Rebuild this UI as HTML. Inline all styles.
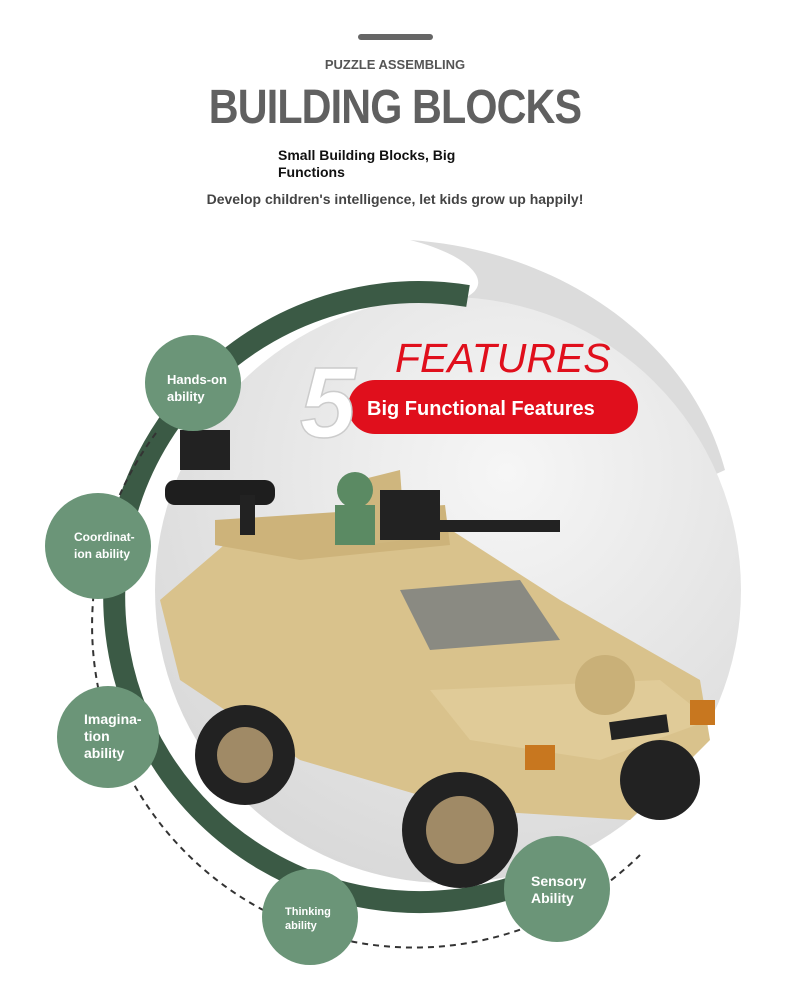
<!DOCTYPE html>
<html><head><meta charset="utf-8"><style>
body{margin:0;width:790px;height:1006px;background:#fff;overflow:hidden;position:relative;font-family:"Liberation Sans",sans-serif}
.t{position:absolute;white-space:nowrap}
</style></head><body>
<div style="position:absolute;left:358px;top:34px;width:75px;height:6px;background:#666;border-radius:3px"></div>
<div class="t" style="left:0;width:790px;text-align:center;top:57px;font-size:13px;font-weight:bold;color:#555">PUZZLE ASSEMBLING</div>
<div class="t" style="left:0;width:790px;text-align:center;top:80px;font-size:48px;font-weight:bold;color:#606060;letter-spacing:-1px;transform:scaleX(0.86)">BUILDING BLOCKS</div>
<div class="t" style="left:278px;top:147px;font-size:14px;font-weight:bold;color:#111;line-height:17px">Small Building Blocks, Big<br>Functions</div>
<div class="t" style="left:0;width:790px;text-align:center;top:191px;font-size:14px;font-weight:bold;color:#444">Develop children's intelligence, let kids grow up happily!</div>
<svg style="position:absolute;left:0;top:0" width="790" height="1006">
<defs><radialGradient id="g" cx="0.6" cy="0.3" r="0.8"><stop offset="0" stop-color="#f6f6f6"/><stop offset="1" stop-color="#d6d6d6"/></radialGradient></defs>
<path d="M410 240 C560 250 690 340 725 470 L460 590 L460 300 C500 285 470 255 410 240 Z" fill="#dcdcdc"/>
<circle cx="448" cy="590" r="293" fill="url(#g)"/>
<path d="M460 296 A305 305 0 1 0 530 878" fill="none" stroke="#3b5a45" stroke-width="22" transform="translate(8 0)"/>
<path d="M156 433 A322 322 0 0 0 640 855" fill="none" stroke="#333" stroke-width="2" stroke-dasharray="6 5"/>
<!-- vehicle -->
<g>
<polygon points="160,600 230,540 420,510 560,600 700,680 710,740 630,820 470,810 300,760 180,680" fill="#d9c28c"/>
<polygon points="215,520 445,505 450,545 300,560 215,545" fill="#cdb37a"/>
<polygon points="360,480 400,470 405,540 365,545" fill="#cfb67e"/>
<polygon points="400,590 520,580 560,640 430,650" fill="#8a8a82"/>
<polygon points="430,690 660,680 710,720 600,760 470,740" fill="#e0cb98"/>
<rect x="180" y="430" width="50" height="40" fill="#222"/>
<rect x="165" y="480" width="110" height="25" rx="10" fill="#1e1e1e"/>
<rect x="240" y="495" width="15" height="40" fill="#222"/>
<rect x="380" y="490" width="60" height="50" fill="#222"/>
<rect x="440" y="520" width="120" height="12" fill="#222"/>
<circle cx="355" cy="490" r="18" fill="#5b8a63"/>
<rect x="335" y="505" width="40" height="40" fill="#5b8a63"/>
<circle cx="245" cy="755" r="50" fill="#222"/><circle cx="245" cy="755" r="28" fill="#a08a66"/>
<circle cx="460" cy="830" r="58" fill="#222"/><circle cx="460" cy="830" r="34" fill="#a08a66"/>
<circle cx="660" cy="780" r="40" fill="#222"/>
<rect x="610" y="718" width="58" height="18" fill="#222" transform="rotate(-8 640 727)"/>
<rect x="525" y="745" width="30" height="25" fill="#c8771f"/><rect x="690" y="700" width="25" height="25" fill="#c8771f"/>
<circle cx="605" cy="685" r="30" fill="#c9b078"/>
</g>
<!-- green circles -->
<g fill="#6b9578">
<circle cx="193" cy="383" r="48"/><circle cx="98" cy="546" r="53"/><circle cx="108" cy="737" r="51"/><circle cx="310" cy="917" r="48"/><circle cx="557" cy="889" r="53"/>
</g>
<g fill="#fff" font-family="Liberation Sans,sans-serif" font-weight="bold">
<text x="167" y="384" font-size="13">Hands-on</text><text x="167" y="401" font-size="13">ability</text>
<text x="74" y="541" font-size="12">Coordinat-</text><text x="74" y="558" font-size="12">ion ability</text>
<text x="84" y="724" font-size="14">Imagina-</text><text x="84" y="741" font-size="14">tion</text><text x="84" y="758" font-size="14">ability</text>
<text x="285" y="915" font-size="11">Thinking</text><text x="285" y="929" font-size="11">ability</text>
<text x="531" y="886" font-size="14">Sensory</text><text x="531" y="903" font-size="14">Ability</text>
</g>
<rect x="348" y="380" width="290" height="54" rx="27" fill="#e00f1c"/>
<text x="395" y="372" font-size="41" font-style="italic" fill="#e00f1c" font-family="Liberation Sans,sans-serif">FEATURES</text>
<text x="367" y="415" font-size="20" font-weight="bold" fill="#fff" font-family="Liberation Sans,sans-serif">Big Functional Features</text>
<text x="300" y="437" font-size="100" font-weight="bold" font-style="italic" fill="#fff" stroke="#ccc" stroke-width="1.5" font-family="Liberation Sans,sans-serif">5</text>
</svg>
</body></html>
